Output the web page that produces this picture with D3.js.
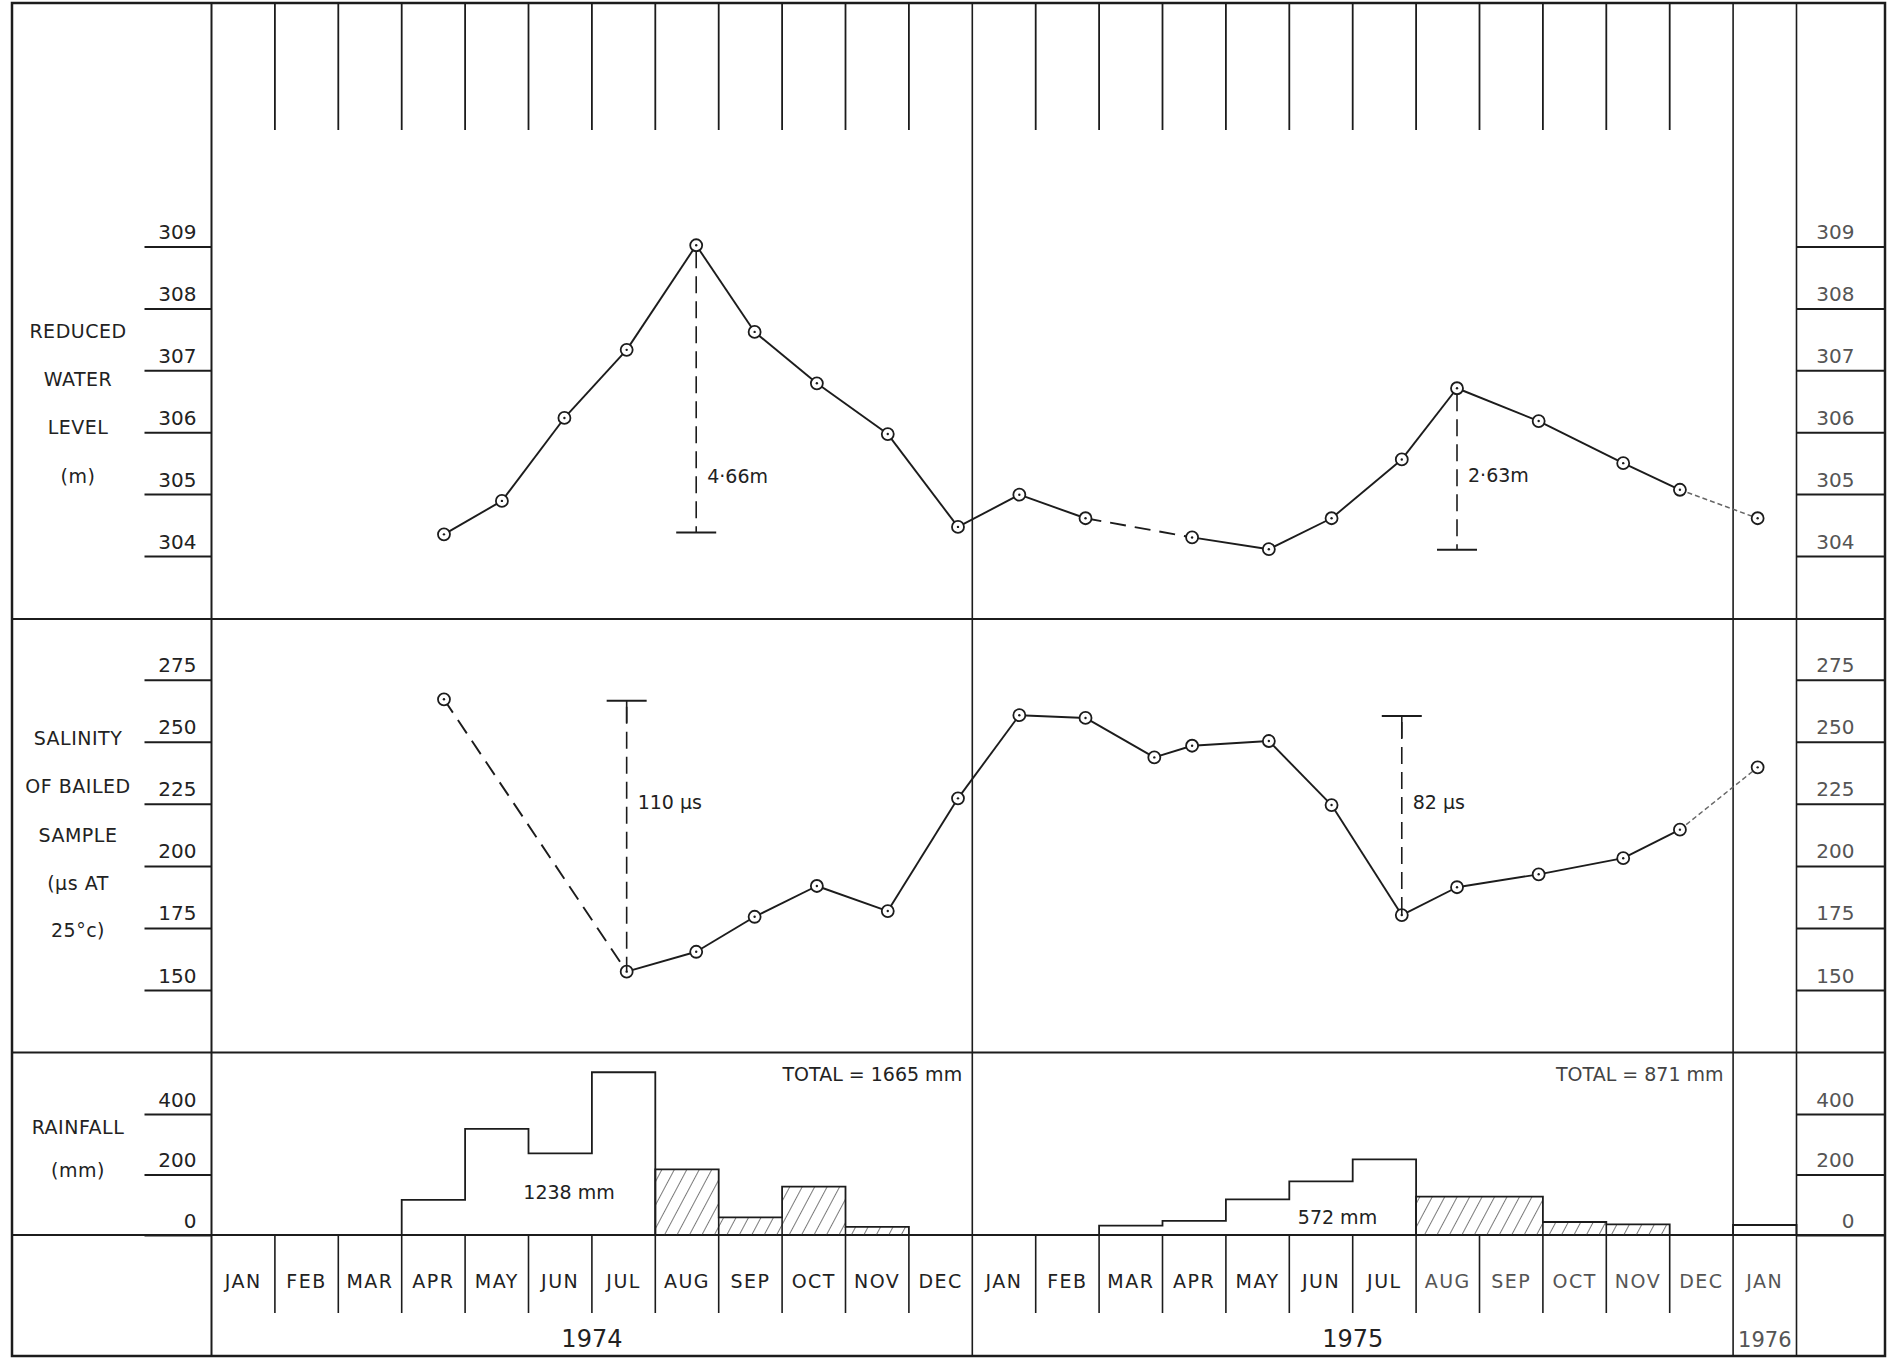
<!DOCTYPE html>
<html>
<head>
<meta charset="utf-8">
<script src="https://cdn.jsdelivr.net/npm/d3@7/dist/d3.min.js"></script>
<style>
body { margin: 0; background: #fff; }
text { font-family: "DejaVu Sans", sans-serif; fill: #222; }
</style>
</head>
<body>
<script>
// months shown along the bottom, Jan 1974 .. Jan 1976
var monthLabels = ["JAN","FEB","MAR","APR","MAY","JUN","JUL","AUG","SEP","OCT","NOV","DEC",
	"JAN","FEB","MAR","APR","MAY","JUN","JUL","AUG","SEP","OCT","NOV","DEC","JAN"]
var yearLabels = ["1974","1975","1976"]
var yearSpans = [[0,12],[12,24],[24,25]]

// sampling dates shared by water level and salinity
var sampleDates = ["1974-04-21","1974-05-19","1974-06-18","1974-07-18","1974-08-21","1974-09-18",
	"1974-10-18","1974-11-21","1974-12-25","1975-01-24","1975-02-23","1975-03-28","1975-04-15",
	"1975-05-22","1975-06-21","1975-07-25","1975-08-21","1975-09-29","1975-11-09","1975-12-06","1976-01-13"]
var waterLevel = [304.35,304.89,306.23,307.33,309.02,307.62,306.79,305.97,304.47,304.99,304.61,null,
	304.30,304.11,304.61,305.56,306.71,306.18,305.50,305.07,304.61]
var salinity = [267.1,null,null,157.4,165.4,179.5,191.9,181.8,227.2,260.7,259.6,243.7,248.4,
	250.3,224.5,180.2,191.4,196.6,203.1,214.6,239.7]

// monthly rainfall (mm), Jan 1974 .. Jan 1976
var rainfall = [0,0,0,116,351,270,538,217,58,160,27,0,
	0,0,31,47,118,177,250,127,127,43,35,0,33]
var rainHatched = [7,8,9,10,19,20,21,22]

var waterTicks = [304,305,306,307,308,309]
var salinityTicks = [150,175,200,225,250,275]
var rainTicks = [0,200,400]

var waterRanges = [
	{ at: "1974-08-21", top: 309.02, bottom: 304.38, labelAt: 305.18, label: "4·66m", cap: "bottom" },
	{ at: "1975-08-21", top: 306.71, bottom: 304.10, labelAt: 305.2, label: "2·63m", cap: "bottom" }
]
var salinityRanges = [
	{ at: "1974-07-18", top: 266.5, bottom: 157.4, labelAt: 222.9, label: "110 µs", cap: "top" },
	{ at: "1975-07-25", top: 260.4, bottom: 180.2, labelAt: 222.9, label: "82 µs", cap: "top" }
]

function monthPos(s) {
	var p = s.split("-").map(Number)
	var dim = new Date(p[0], p[1], 0).getDate()
	return (p[0] - 1974) * 12 + (p[1] - 1) + (p[2] - 1) / dim
}

var W = 1887, H = 1359
var frameTop = 3, frameBottom = 1356, frameLeft = 12, frameRight = 1885
var svg = d3.select("body").append("svg").attr("width", W).attr("height", H)

var x = d3.scaleLinear().domain([0, 25]).range([211.5, 1796.5])
var yWater = d3.scaleLinear().domain([304, 309]).range([556, 246.5])
var ySal = d3.scaleLinear().domain([150, 275]).range([990, 679.7])
var yRain = d3.scaleLinear().domain([0, 400]).range([1235, 1114])
var sepWater = 619, sepSal = 1052.5

// hatch pattern
svg.append("defs").append("pattern").attr("id","hatch").attr("patternUnits","userSpaceOnUse")
	.attr("width",11).attr("height",11).attr("patternTransform","rotate(28)")
	.append("line").attr("x1",0).attr("y1",0).attr("x2",0).attr("y2",11)
	.attr("stroke","#333").attr("stroke-width",1.3)

// frame and dividers
var ink = "#1c1c1c"
svg.append("rect").attr("x",frameLeft).attr("y",frameTop)
	.attr("width",frameRight-frameLeft).attr("height",frameBottom-frameTop)
	.attr("fill","none").attr("stroke",ink).attr("stroke-width",2.5)
;[sepWater, sepSal, yRain(0)].forEach(function(y) {
	svg.append("line").attr("x1",frameLeft).attr("x2",frameRight).attr("y1",y).attr("y2",y)
		.attr("stroke",ink).attr("stroke-width",2)
})
;[0, 12, 24, 25].forEach(function(m) {
	svg.append("line").attr("x1",x(m)).attr("x2",x(m)).attr("y1",frameTop).attr("y2",frameBottom)
		.attr("stroke",ink).attr("stroke-width",m == 0 ? 2 : 1.6)
})

// month ticks at top and in month row
var inner = d3.range(1, 24).filter(function(m){ return m != 12 })
svg.append("g").selectAll("line").data(inner).join("line")
	.attr("x1",x).attr("x2",x).attr("y1",frameTop).attr("y2",130)
	.attr("stroke",ink).attr("stroke-width",1.8)
svg.append("g").selectAll("line").data(inner).join("line")
	.attr("x1",x).attr("x2",x).attr("y1",yRain(0)).attr("y2",1313)
	.attr("stroke",ink).attr("stroke-width",1.6)
svg.append("g").selectAll("text").data(monthLabels).join("text")
	.attr("x",function(d,i){ return x(i + 0.5) }).attr("y",1288)
	.attr("text-anchor","middle").attr("font-size",19).attr("letter-spacing",1.5)
	.style("fill",function(d,i){ return i > 18 ? "#555" : "#222" })
	.text(function(d){ return d })
svg.append("g").selectAll("text").data(yearLabels).join("text")
	.attr("x",function(d,i){ return x((yearSpans[i][0] + yearSpans[i][1]) / 2) }).attr("y",1347)
	.attr("text-anchor","middle").attr("font-size",function(d,i){ return i == 2 ? 21 : 24 })
	.style("fill",function(d,i){ return i == 2 ? "#555" : "#222" })
	.text(function(d){ return d })

// axes
function styleAxis(g, textX, color) {
	g.select(".domain").remove()
	g.attr("font-size",20).attr("font-family","DejaVu Sans, sans-serif")
	g.selectAll(".tick line").attr("stroke",ink).attr("stroke-width",2)
	g.selectAll(".tick text").attr("x",textX).attr("dy",-8).attr("text-anchor","end").style("fill",color)
}
function axes(scale, ticks) {
	svg.append("g").attr("transform","translate(" + x(0) + ",0)")
		.call(d3.axisLeft(scale).tickValues(ticks).tickSize(67).tickFormat(d3.format("d")))
		.call(styleAxis, -15, "#222")
	svg.append("g").attr("transform","translate(" + x(25) + ",0)")
		.call(d3.axisRight(scale).tickValues(ticks).tickSize(frameRight - x(25)).tickFormat(d3.format("d")))
		.call(styleAxis, 58, "#555")
}
axes(yWater, waterTicks)
axes(ySal, salinityTicks)
axes(yRain, rainTicks)

// panel titles
function title(lines, ys) {
	svg.append("g").selectAll("text").data(lines).join("text")
		.attr("x",78).attr("y",function(d,i){ return ys[i] }).attr("text-anchor","middle")
		.attr("font-size",19).attr("letter-spacing",0.5).text(function(d){ return d })
}
title(["REDUCED","WATER","LEVEL","(m)"], [338, 386, 434, 483])
title(["SALINITY","OF BAILED","SAMPLE","(µs AT","25°c)"], [745, 793, 842, 890, 937])
title(["RAINFALL","(mm)"], [1134, 1177])

// line series
function series(values, y) {
	var pts = sampleDates.map(function(d, i){ return { m: monthPos(d), v: values[i], i: i } })
	var def = pts.filter(function(p){ return p.v != null })
	var line = d3.line().x(function(p){ return x(p.m) }).y(function(p){ return y(p.v) })
	var last = def.length - 1
	for (var k = 0; k < last; k++) {
		var a = def[k], b = def[k + 1]
		var gap = b.i - a.i > 1, faded = k == last - 1
		svg.append("path").attr("d", line([a, b])).attr("fill","none")
			.attr("stroke", faded ? "#666" : ink).attr("stroke-width", faded ? 1.4 : 1.9)
			.attr("stroke-dasharray", gap ? "16,9" : faded ? "5,3" : null)
	}
	var g = svg.append("g").selectAll("g").data(def).join("g")
		.attr("transform",function(p){ return "translate(" + x(p.m) + "," + y(p.v) + ")" })
	g.append("circle").attr("r",6).attr("fill","#fff").attr("stroke",ink).attr("stroke-width",1.8)
	g.append("circle").attr("r",1.2).attr("fill",ink)
}
series(waterLevel, yWater)
series(salinity, ySal)

// range annotations
function ranges(list, y) {
	list.forEach(function(r) {
		var xp = x(monthPos(r.at))
		svg.append("line").attr("x1",xp).attr("x2",xp).attr("y1",y(r.top) + 6).attr("y2",y(r.bottom))
			.attr("stroke",ink).attr("stroke-width",1.6).attr("stroke-dasharray","17,8")
		var cy = r.cap == "top" ? y(r.top) : y(r.bottom)
		svg.append("line").attr("x1",xp - 20).attr("x2",xp + 20).attr("y1",cy).attr("y2",cy)
			.attr("stroke",ink).attr("stroke-width",2)
		if (r.cap == "top")
			svg.append("line").attr("x1",xp).attr("x2",xp).attr("y1",cy).attr("y2",cy + 22)
				.attr("stroke",ink).attr("stroke-width",1.6)
		svg.append("text").attr("x",xp + 11).attr("y",y(r.labelAt)).attr("font-size",19).text(r.label)
	})
}
ranges(waterRanges, yWater)
ranges(salinityRanges, ySal)

// rainfall steps
var runs = []
rainfall.forEach(function(v, i) {
	var h = rainHatched.indexOf(i) >= 0
	if (!v) return
	var cur = runs[runs.length - 1]
	if (cur && cur.end == i && cur.hatched == h) { cur.end = i + 1 }
	else runs.push({ start: i, end: i + 1, hatched: h })
})
runs.forEach(function(r) {
	var p = d3.path()
	p.moveTo(x(r.start), yRain(0))
	for (var i = r.start; i < r.end; i++) {
		p.lineTo(x(i), yRain(rainfall[i]))
		p.lineTo(x(i + 1), yRain(rainfall[i]))
	}
	p.lineTo(x(r.end), yRain(0))
	svg.append("path").attr("d", p.toString()).attr("fill", r.hatched ? "url(#hatch)" : "none")
		.attr("stroke", ink).attr("stroke-width", 1.8)
	if (r.hatched) {
		for (var j = r.start + 1; j < r.end; j++) {
			if (rainfall[j] == rainfall[j - 1]) continue
			svg.append("line").attr("x1",x(j)).attr("x2",x(j)).attr("y1",yRain(0))
				.attr("y2",yRain(Math.min(rainfall[j], rainfall[j - 1])))
				.attr("stroke",ink).attr("stroke-width",1.6)
		}
	}
})
svg.append("text").attr("x",x(5.64)).attr("y",yRain(118)).attr("text-anchor","middle").attr("font-size",19).text("1238 mm")
svg.append("text").attr("x",x(17.76)).attr("y",yRain(36)).attr("text-anchor","middle").attr("font-size",19).text("572 mm")
svg.append("text").attr("x",x(11.84)).attr("y",yRain(510)).attr("text-anchor","end").attr("font-size",19).text("TOTAL = 1665 mm")
svg.append("text").attr("x",x(23.85)).attr("y",yRain(510)).attr("text-anchor","end").attr("font-size",19).style("fill","#444").text("TOTAL = 871 mm")
</script>
</body>
</html>
